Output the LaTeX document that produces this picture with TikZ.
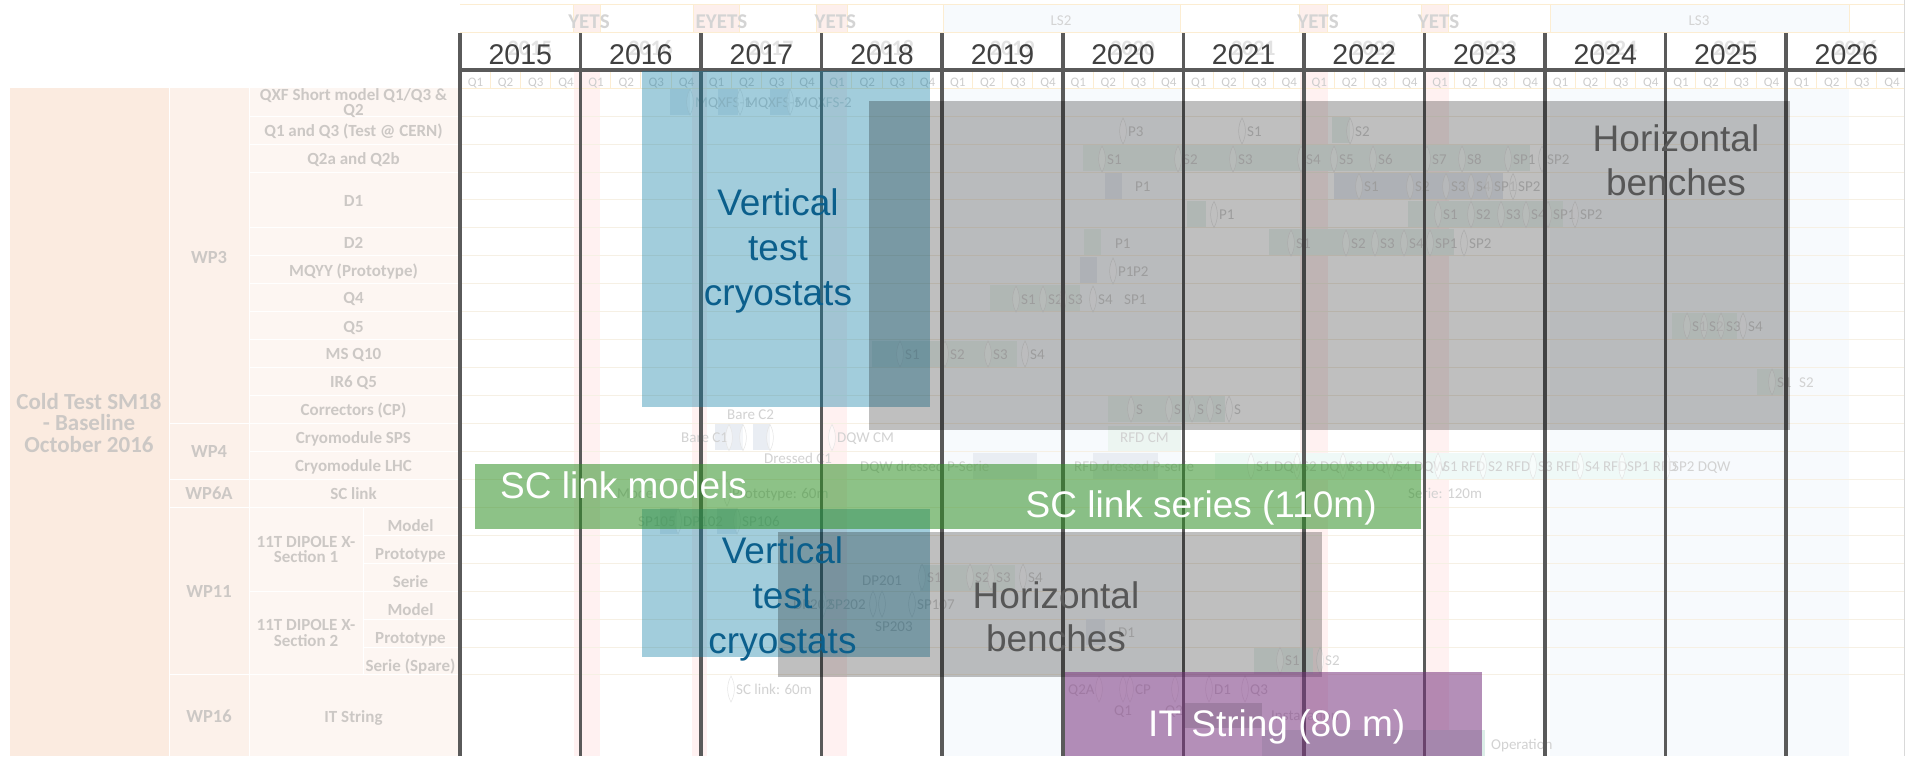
\documentclass[tikz,border=0pt]{standalone}
\usepackage{fontspec}
\setmainfont{Carlito}
\newfontfamily\arialfont{Liberation Sans}

\definecolor{yearline}{HTML}{5A5A5A}
\definecolor{yeartext}{HTML}{404040}
\definecolor{ghostyear}{HTML}{E2E2E2}
\definecolor{peachA}{HTML}{FBEBE0}
\definecolor{peachB}{HTML}{FCF1EA}
\definecolor{peachC}{HTML}{FDF6F2}
\definecolor{tabtext}{HTML}{CCC8C5}
\definecolor{qtext}{HTML}{CDCDCD}
\definecolor{hdrline}{HTML}{FCEDD2}
\definecolor{hdrtext}{HTML}{D4D4D4}
\definecolor{rowline}{HTML}{F6F0E4}
\definecolor{yetsfill}{HTML}{FFF1F1}
\definecolor{yetshead}{HTML}{FDEFEC}
\definecolor{lsfill}{HTML}{F7FAFD}
\definecolor{glabtext}{HTML}{D2D2D2}
\definecolor{barG}{HTML}{ECF5F1}
\definecolor{barB}{HTML}{E9EDF3}
\definecolor{barC}{HTML}{EFF9F7}
\definecolor{barK}{HTML}{CDD8D0}
\definecolor{barO}{HTML}{DCEEE8}
\definecolor{vtcblue}{RGB}{12,124,163}
\definecolor{vtctext}{HTML}{0B5F8C}
\definecolor{linkgreen}{RGB}{48,144,37}
\definecolor{stringpurple}{RGB}{120,51,126}
\definecolor{benchtext}{HTML}{575757}

\tikzset{
  yearln/.style={draw=yearline, line width=3.6pt},
  yearlbl/.style={font=\arialfont\fontsize{28.5}{34}\selectfont, text=yeartext, anchor=base, inner sep=0pt},
  ghostlbl/.style={font=\bfseries\fontsize{22}{26}\selectfont, text=ghostyear, anchor=base, inner sep=0pt},
  qlbl/.style={font=\fontsize{13}{15}\selectfont, text=qtext, anchor=base, inner sep=0pt},
  qsep/.style={draw=hdrline, line width=0.8pt},
  hdrln/.style={draw=hdrline, line width=0.8pt},
  hdrlbl/.style={font=\bfseries\fontsize{21}{24}\selectfont, text=hdrtext, anchor=base, inner sep=0pt},
  lslbl/.style={font=\fontsize{15}{18}\selectfont, text=hdrtext, anchor=base, inner sep=0pt},
  tablbl/.style={font=\bfseries\fontsize{17}{19}\selectfont, text=tabtext, anchor=base, inner sep=0pt},
  wplbl/.style={font=\bfseries\fontsize{18.5}{21}\selectfont, text=tabtext, anchor=base, inner sep=0pt},
  titlelbl/.style={font=\bfseries\fontsize{23}{22}\selectfont, text=tabtext, anchor=base, inner sep=0pt},
  tabsep/.style={draw=white, line width=1pt},
  rowln/.style={draw=rowline, line width=0.7pt},
  glabel/.style={font=\fontsize{15}{18}\selectfont, text=glabtext, anchor=west, inner sep=0pt, text height=10pt, text depth=0pt},
  mslens/.style={draw=black!10, line width=0.5pt, fill=white, fill opacity=0.5},
  vtcbox/.style={fill=vtcblue, fill opacity=0.38},
  benchbox/.style={fill=black, fill opacity=0.25},
  linkbox/.style={fill=linkgreen, fill opacity=0.55},
  stringbox/.style={fill=stringpurple, fill opacity=0.55},
  vtclbl/.style={font=\arialfont\fontsize{37}{45}\selectfont, text=vtctext, anchor=base, inner sep=0pt},
  benchlbl/.style={font=\arialfont\fontsize{37}{43}\selectfont, text=benchtext, anchor=base, inner sep=0pt},
  whitelbl/.style={font=\arialfont\fontsize{37}{43}\selectfont, text=white, anchor=base west, inner sep=0pt},
}

\newcounter{glab}
% milestone marker: a thin lens centred at (x,y)
\newcommand\mlens[2]{%
  \path[mslens] ({#1},{#2-13}) .. controls ({#1+4.5},{#2-5}) and ({#1+4.5},{#2+5}) .. ({#1},{#2+13})
    .. controls ({#1-4.5},{#2+5}) and ({#1-4.5},{#2-5}) .. ({#1},{#2-13}) -- cycle;}
% faint task label, left end at (x,y)
\newcommand\glab[3]{\stepcounter{glab}\node[glabel] (gl\arabic{glab}) at (#1,#2) {#3};}
% milestone followed by its label
\newcommand\gms[3]{\mlens{#1-5}{#2}\glab{#1}{#2}{#3}}

\begin{document}
\begin{tikzpicture}[x=1pt,y=-1pt]
\useasboundingbox (0,0) rectangle (1905,756);
\clip (0,0) rectangle (1905,756);
\fill[white] (0,0) rectangle (1905,756);

% ---------- shutdown periods in the grid ----------
\fill[lsfill] (943.5,88) rectangle (1180.7,756);
\fill[lsfill] (1550,88) rectangle (1849,756);
\foreach \a/\b in {573.6/600.4, 692/706.5, 820/847, 1300/1328, 1426/1449}
  \fill[yetsfill] (\a,70) rectangle (\b,756);

% ---------- top band: shutdowns ----------
\fill[yetshead] (573.6,4) rectangle (600.4,32);
\fill[yetshead] (693.5,4) rectangle (739,32);
\fill[yetshead] (816,4) rectangle (847,32);
\fill[yetshead] (1299,4) rectangle (1327,32);
\fill[yetshead] (1421,4) rectangle (1448,32);
\fill[lsfill] (943.5,4) rectangle (1180.7,32);
\fill[lsfill] (1550,4) rectangle (1849,32);
\draw[hdrln] (460,4) -- (1905,4);
\draw[hdrln] (460,32) -- (1905,32);
\foreach \x in {573.6,600.4,693.5,739,816,847,943.5,1180.7,1299,1327,1421,1448,1550,1849}
  \draw[hdrln] (\x,4) -- (\x,32);
\node[hdrlbl] (yets1) at (589,28.5) {YETS};
\node[hdrlbl] (eyets) at (721.5,28.5) {EYETS};
\node[hdrlbl] (yets2) at (835.4,28.5) {YETS};
\node[lslbl] (ls2) at (1061,25.5) {LS2};
\node[hdrlbl] (yets3) at (1318,28.5) {YETS};
\node[hdrlbl] (yets4) at (1438.5,28.5) {YETS};
\node[lslbl] (ls3) at (1699,25.5) {LS3};

% ---------- quarter row ----------
\draw[hdrln] (460,88) -- (1905,88);
\foreach \i in {0,...,11}{
  \foreach \q in {1,2,3}
    \draw[qsep] ({460+120.55*\i+30.14*\q},70) -- ++(0,18);
  \foreach \q in {1,...,4}
    \node[qlbl] (q\i-\q) at ({460+120.55*\i+30.14*(\q-1)+15.5},86) {Q\q};
}

% ---------- row guides of the grid ----------
\foreach \y in {116,144,172,199.5,227,255,283,311,339,367,395,423,451,479,507,535,563,591,619,647,674}
  \draw[rowln] (460,\y) -- (1905,\y);
\draw[draw=black!15, line width=0.8pt] (1904,0) -- (1904,756);

% ---------- label table ----------
\fill[peachA] (10,88) rectangle (169,756);
\fill[peachB] (169,88) rectangle (249,756);
\fill[peachC] (249,88) rectangle (458,756);
\draw[tabsep] (169,88) -- (169,756);
\draw[tabsep] (249,88) -- (249,756);
\draw[tabsep] (363,507) -- (363,674);
\foreach \y in {116,144,172,227,255,283,311,339,367,395,423,451,479,507,591,674}
  \draw[tabsep] (249,\y) -- (458,\y);
\foreach \y in {535,563,619,647}
  \draw[tabsep] (363,\y) -- (458,\y);
\foreach \y in {423,479,507,674}
  \draw[tabsep] (169,\y) -- (249,\y);

\node[titlelbl] (tA) at (89,409.3) {Cold Test SM18};
\node[titlelbl] (tB) at (89,430.5) {- Baseline};
\node[titlelbl] (tC) at (89,452) {October 2016};

\node[wplbl] (wp3) at (209,263) {WP3};
\node[wplbl] (wp4) at (209,457.7) {WP4};
\node[wplbl] (wp6a) at (209,499.7) {WP6A};
\node[wplbl] (wp11) at (209,597) {WP11};
\node[wplbl] (wp16) at (209,722.7) {WP16};

\node[tablbl] (it1a) at (353.5,100.7) {QXF Short model Q1/Q3 \&};
\node[tablbl] (it1b) at (353.5,115.5) {Q2};
\node[tablbl] (it2) at (353.5,136.5) {Q1 and Q3 (Test @ CERN)};
\node[tablbl] (it3) at (353.5,164.5) {Q2a and Q2b};
\node[tablbl] (it4) at (353.5,206.5) {D1};
\node[tablbl] (it5) at (353.5,248.5) {D2};
\node[tablbl] (it6) at (353.5,276.5) {MQYY (Prototype)};
\node[tablbl] (it7) at (353.5,303.5) {Q4};
\node[tablbl] (it8) at (353.5,332) {Q5};
\node[tablbl] (it9) at (353.5,359.5) {MS Q10};
\node[tablbl] (it10) at (353.5,387) {IR6 Q5};
\node[tablbl] (it11) at (353.5,415.5) {Correctors (CP)};
\node[tablbl] (it12) at (353.5,443) {Cryomodule SPS};
\node[tablbl] (it13) at (353.5,471.5) {Cryomodule LHC};
\node[tablbl] (it14) at (353.5,499) {SC link};
\node[tablbl] (xs1a) at (306,547) {11T DIPOLE X-};
\node[tablbl] (xs1b) at (306,562.5) {Section 1};
\node[tablbl] (xs2a) at (306,630.5) {11T DIPOLE X-};
\node[tablbl] (xs2b) at (306,646.5) {Section 2};
\node[tablbl] (m1) at (410.5,531) {Model};
\node[tablbl] (p1) at (410.5,559.5) {Prototype};
\node[tablbl] (s1) at (410.5,587.5) {Serie};
\node[tablbl] (m2) at (410.5,615) {Model};
\node[tablbl] (p2) at (410.5,643.5) {Prototype};
\node[tablbl] (s2) at (410.5,671) {Serie (Spare)};
\node[tablbl] (it15) at (353.5,722) {IT String};

% ---------- faint schedule underneath ----------
% QXF short models
\fill[barB] (670,89) rectangle (690,115);
\fill[barB] (718,89) rectangle (738,115);
\fill[barB] (770,89) rectangle (790,115);
\gms{695}{102}{MQXFS-1}\gms{745}{102}{MQXFS-5}\gms{795}{102}{MQXFS-2}
% Q1 and Q3
\fill[barG] (1332,117) rectangle (1350,143);
\gms{1128}{131}{P3}\gms{1247}{131}{S1}\gms{1355}{131}{S2}
% Q2a and Q2b
\fill[barG] (1083,145) rectangle (1530,171);
\gms{1107}{159}{S1}\gms{1183}{159}{S2}\gms{1238}{159}{S3}\gms{1306}{159}{S4}\gms{1339}{159}{S5}
\gms{1378}{159}{S6}\gms{1432}{159}{S7}\gms{1467}{159}{S8}\gms{1513}{159}{SP1}\gms{1547}{159}{SP2}
% D1
\fill[barB] (1105,173) rectangle (1122,199);
\glab{1135}{186.5}{P1}
\fill[barB] (1334,173) rectangle (1503,199);
\gms{1364}{186.5}{S1}\gms{1415}{186.5}{S2}\gms{1451}{186.5}{S3}\gms{1476}{186.5}{S4}\gms{1494}{186.5}{SP1}\gms{1518}{186.5}{SP2}
\fill[barG] (1187,201) rectangle (1206,227);
\gms{1219}{214.5}{P1}
\fill[barG] (1408,201) rectangle (1563,227);
\gms{1443}{214.5}{S1}\gms{1476}{214.5}{S2}\gms{1506}{214.5}{S3}\gms{1531}{214.5}{S4}\gms{1553}{214.5}{SP1}\gms{1580}{214.5}{SP2}
% D2
\fill[barG] (1084,229) rectangle (1101,255);
\glab{1115}{243}{P1}
\fill[barG] (1269,229) rectangle (1454,255);
\gms{1296}{243}{S1}\gms{1351}{243}{S2}\gms{1380}{243}{S3}\gms{1409}{243}{S4}\gms{1435}{243}{SP1}\gms{1469}{243}{SP2}
% MQYY
\fill[barB] (1080,257) rectangle (1097,283);
\gms{1118}{271}{P1}\glab{1133}{271}{P2}
% Q4
\fill[barG] (990,285) rectangle (1080,311);
\gms{1021}{299}{S1}\gms{1048}{299}{S2}\gms{1068}{299}{S3}\gms{1098}{299}{S4}\glab{1124}{299}{SP1}
% Q5
\fill[barG] (1672,313) rectangle (1737,339);
\gms{1692}{326}{S1}\gms{1709}{326}{S2}\gms{1726}{326}{S3}\gms{1748}{326}{S4}
% MS Q10
\fill[barG] (872,341) rectangle (1017,367);
\gms{905}{354}{S1}\gms{950}{354}{S2}\gms{993}{354}{S3}\gms{1030}{354}{S4}
% IR6 Q5
\fill[barG] (1757,369) rectangle (1783,395);
\gms{1777}{382}{S1}\glab{1799}{382}{S2}
% Correctors
\fill[barG] (1108,396) rectangle (1225,422);
\gms{1136}{409}{S}\gms{1174}{409}{S}\gms{1197}{409}{S}\gms{1215}{409}{S}\gms{1234}{409}{S}
% Cryomodule SPS
\glab{727}{414}{Bare C2}
\fill[barB] (715,424) rectangle (743,450);
\fill[barB] (753,424) rectangle (770,450);
\glab{681}{437.5}{Bare C1}
\mlens{729}{437.5}\mlens{743}{437.5}\mlens{770}{437.5}
\gms{837}{437.5}{DQW CM}
\glab{764}{458}{Dressed C1}
\fill[barG] (1108,426) rectangle (1181,451);
\glab{1120}{437.5}{RFD CM}
% Cryomodule LHC
\fill[barB] (973,453) rectangle (1037,479);
\fill[barB] (1093,453) rectangle (1158,479);
\fill[barC] (1215,453) rectangle (1663,479);
\glab{860}{466}{DQW dressed P-Serie}
\glab{1074}{466}{RFD dressed P-serie}
\gms{1256}{466}{S1 DQW}\gms{1302}{466}{S2 DQW}\gms{1348}{466}{S3 DQW}\gms{1396}{466}{S4 DQW}
\gms{1443}{466}{S1 RFD}\gms{1488}{466}{S2 RFD}\gms{1538}{466}{S3 RFD}\gms{1585}{466}{S4 RFD}
\gms{1627}{466}{SP1 RFD}\gms{1672}{466}{SP2 DQW}
% SC link
\glab{617}{493}{Model}
\gms{732}{493}{Prototype: 60m}
\glab{1408}{493}{Serie: 120m}
% 11T dipole
\fill[barB] (660,508) rectangle (677,534);
\fill[barB] (717,508) rectangle (737,534);
\glab{638}{521}{SP105}\gms{683}{521}{DP102}\gms{742}{521}{SP106}
\fill[barG] (920,565) rectangle (1015,591);
\glab{862}{580}{DP201}
\gms{927}{577}{S1}\gms{975}{577}{S2}\gms{996}{577}{S3}\gms{1028}{577}{S4}
\glab{793}{604}{DP202}\gms{828}{604}{SP202}\mlens{873}{604}\mlens{882}{604}\gms{917}{604}{SP107}
\glab{875}{626}{SP203}
\fill[barB] (1086,619) rectangle (1105,645);
\glab{1118}{632}{D1}
\fill[barG] (1254,648) rectangle (1313,674);
\gms{1285}{660.5}{S1}\gms{1325}{660.5}{S2}
% IT string
\gms{736}{689}{SC link: 60m}
\glab{1068}{689}{Q2A}\mlens{1099}{689}\mlens{1123}{689}\gms{1135}{689}{CP}\mlens{1175}{689}
\gms{1214}{689}{D1}\gms{1250}{689}{Q3}
\glab{1114}{710}{Q1}\glab{1165}{710}{Q2}
\fill[barK] (1185,703) rectangle (1262,728);
\glab{1271}{715}{Installation}
\fill[barO] (1262,730) rectangle (1485,756);
\glab{1491}{744}{Operation}

% ---------- year grid ----------
\foreach \yr [count=\i from 0] in {2015,...,2026}
  \node[ghostlbl] (gy\yr) at ({530+120.55*\i},55) {\yr};
\foreach \i in {0,...,12}
  \draw[yearln] ({460+120.55*\i},33) -- ({460+120.55*\i},756);
\draw[yearln] (458,70) -- (1905,70);
\foreach \yr [count=\i from 0] in {2015,...,2026}
  \node[yearlbl] (yr\yr) at ({520.3+120.55*\i},64.5) {\yr};

% ---------- test facility overlays ----------
\fill[vtcbox] (642,71) rectangle (930,407);
\fill[benchbox] (869,101) rectangle (1790,430);
\fill[vtcbox] (642,509) rectangle (930,657);
\fill[linkbox] (475,464) rectangle (1421,529);
\fill[benchbox] (778,532) rectangle (1322,677);
\fill[stringbox] (1065,672) rectangle (1482,756);

\node[vtclbl] (vtA1) at (778,215) {Vertical};
\node[vtclbl] (vtA2) at (778,260) {test};
\node[vtclbl] (vtA3) at (778,305) {cryostats};
\node[benchlbl] (hbA1) at (1676,151.7) {Horizontal};
\node[benchlbl] (hbA2) at (1676,195) {benches};
\node[whitelbl] (scm) at (500,498.3) {SC link models};
\node[whitelbl] (scs) at (1025.5,517.5) {SC link series (110m)};
\node[vtclbl] (vtB1) at (782.5,563.3) {Vertical};
\node[vtclbl] (vtB2) at (782.5,608.3) {test};
\node[vtclbl] (vtB3) at (782.5,653) {cryostats};
\node[benchlbl] (hbB1) at (1056,608.3) {Horizontal};
\node[benchlbl] (hbB2) at (1056,651.7) {benches};
\node[whitelbl] (its) at (1148,736.5) {IT String (80 m)};
\end{tikzpicture}
\end{document}
